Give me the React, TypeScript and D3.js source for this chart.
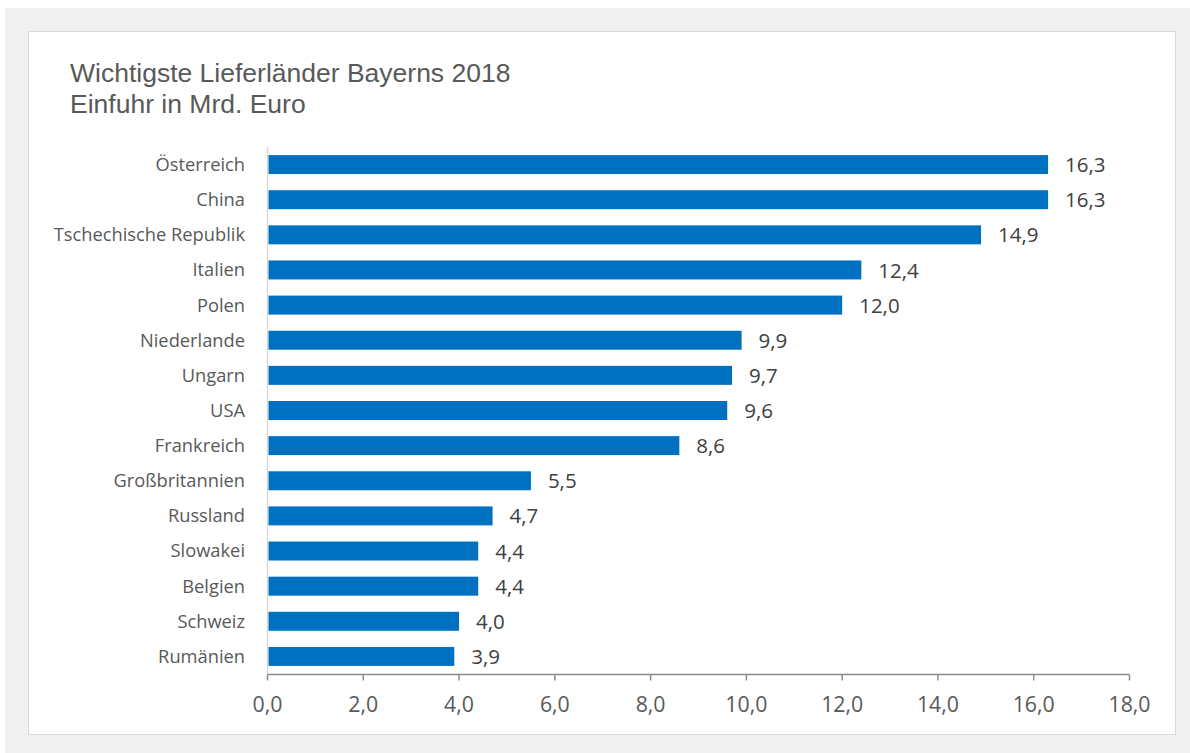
import React from "react";
import * as d3 from "d3";

const categories = [
  "Österreich",
  "China",
  "Tschechische Republik",
  "Italien",
  "Polen",
  "Niederlande",
  "Ungarn",
  "USA",
  "Frankreich",
  "Großbritannien",
  "Russland",
  "Slowakei",
  "Belgien",
  "Schweiz",
  "Rumänien",
];
const values = [16.3, 16.3, 14.9, 12.4, 12.0, 9.9, 9.7, 9.6, 8.6, 5.5, 4.7, 4.4, 4.4, 4.0, 3.9];
const xTicks = [0, 2, 4, 6, 8, 10, 12, 14, 16, 18];
const titleLines = ["Wichtigste Lieferländer Bayerns 2018", "Einfuhr in Mrd. Euro"];

const fmt = (v: number) => v.toFixed(1).replace(".", ",");

export default function App() {
  const W = 1190;
  const H = 753;
  const x = d3.scaleLinear().domain([0, 18]).range([267.5, 1129.5]);
  const y = d3.scaleBand<string>().domain(categories).range([147, 674]).paddingInner(0.46).paddingOuter(0.23);
  const axisY = 674.5;
  const labelFont = "'Open Sans', sans-serif";
  return (
    <svg width={W} height={H} style={{ position: "absolute", left: 0, top: 0 }}>
      <rect x={5} y={8} width={W - 5} height={745} fill="#f0f0f0" />
      <rect x={28.5} y={31.5} width={1147} height={703} fill="#ffffff" stroke="#d9d9d9" strokeWidth={1} />
      {titleLines.map((t, i) => (
        <text key={t} x={70} y={82 + i * 31} fontFamily="'Liberation Sans', Arial, sans-serif" fontSize={26.5} fill="#595959">
          {t}
        </text>
      ))}
      <line x1={267.5} x2={267.5} y1={147} y2={axisY} stroke="#d9d9d9" strokeWidth={1.5} />
      {categories.map((c, i) => {
        const yy = y(c)!;
        return (
          <g key={c}>
            <rect x={x(0) + 1} y={yy} width={x(values[i]) - x(0) - 1} height={y.bandwidth()} fill="#0070c0" />
            <text x={245} y={yy + y.bandwidth() / 2} dy="0.35em" textAnchor="end" fontFamily={labelFont} fontSize={18.3} fill="#595959">
              {c}
            </text>
            <text x={x(values[i]) + 17} y={yy + y.bandwidth() / 2} dy="0.37em" fontFamily={labelFont} fontSize={20.5} fill="#404040">
              {fmt(values[i])}
            </text>
          </g>
        );
      })}
      <line x1={x(0)} x2={x(18)} y1={axisY} y2={axisY} stroke="#8c8c8c" strokeWidth={1.5} />
      {xTicks.map((t) => (
        <g key={t}>
          <line x1={x(t)} x2={x(t)} y1={axisY} y2={axisY + 6} stroke="#8c8c8c" strokeWidth={1.5} />
          <text x={x(t)} y={712} textAnchor="middle" fontFamily={labelFont} fontSize={21.3} fill="#595959">
            {fmt(t)}
          </text>
        </g>
      ))}
    </svg>
  );
}
